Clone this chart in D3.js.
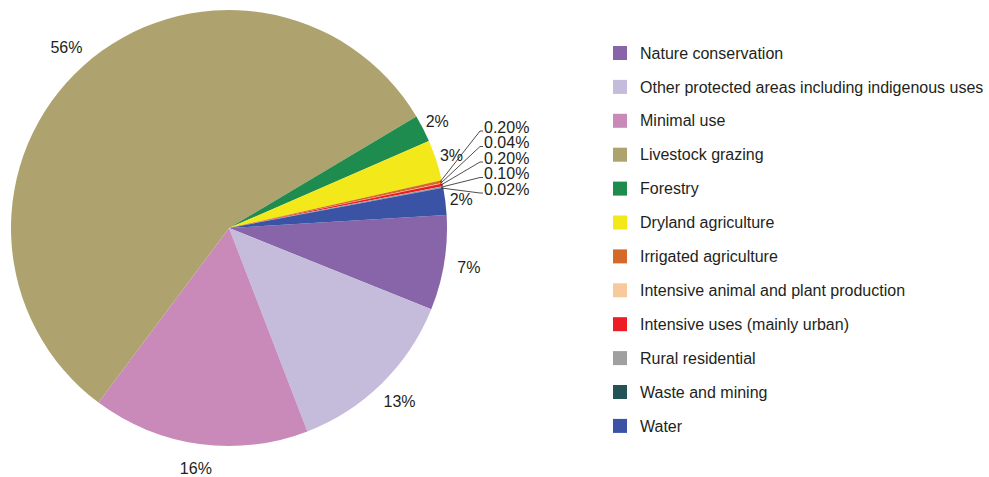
<!DOCTYPE html>
<html>
<head>
<meta charset="utf-8">
<script src="https://cdn.jsdelivr.net/npm/d3@7"></script>
<style>
  body { margin: 0; background: #fff; }
  svg { display: block; font-family: "Liberation Sans", Arial, Helvetica, sans-serif; }
</style>
</head>
<body>
<svg></svg>
<script>
// land use categories, clockwise from the right side of the pie
const categories = [
  'Nature conservation',
  'Other protected areas including indigenous uses',
  'Minimal use',
  'Livestock grazing',
  'Forestry',
  'Dryland agriculture',
  'Irrigated agriculture',
  'Intensive animal and plant production',
  'Intensive uses (mainly urban)',
  'Rural residential',
  'Waste and mining',
  'Water'
];
const values = [7, 13, 16, 56, 2, 3, 0.2, 0.04, 0.2, 0.1, 0.02, 2];
const labels = ['7%', '13%', '16%', '56%', '2%', '3%', '0.20%', '0.04%', '0.20%', '0.10%', '0.02%', '2%'];
const colors = ['#8864a9', '#c5bbdb', '#c98aba', '#aea36f', '#1e8c4e', '#f2e81a',
                '#d4692a', '#f8c99c', '#ee1c25', '#a0a0a0', '#235356', '#3a53a4'];

document.addEventListener('DOMContentLoaded', function() {
  const width = 989;
  const height = 477;
  const cx = 229, cy = 228, r = 218;

  const svg = d3.select('svg')
    .attr('width', width)
    .attr('height', height);

  const data = categories.map((c, i) => ({ name: c, value: values[i], label: labels[i], color: colors[i] }));

  const pie = d3.pie()
    .sort(null)
    .value(d => d.value)
    .startAngle(86.6 * Math.PI / 180)
    .endAngle(86.6 * Math.PI / 180 + 2 * Math.PI);

  const arcs = pie(data);
  const arc = d3.arc().innerRadius(0).outerRadius(r);

  const g = svg.append('g').attr('transform', `translate(${cx},${cy})`);

  g.selectAll('path')
    .data(arcs)
    .enter().append('path')
    .attr('d', arc)
    .attr('fill', d => d.data.color);

  const polar = (a, rad) => [rad * Math.sin(a), -rad * Math.cos(a)];
  const labelR = d => d.data.value >= 5 ? r + 25 : r + 16;

  // slices of 1% or more: label just outside the rim
  const big = arcs.filter(d => d.data.value >= 1);
  g.selectAll('text.big')
    .data(big)
    .enter().append('text')
    .attr('class', 'big')
    .attr('x', d => polar((d.startAngle + d.endAngle) / 2, labelR(d))[0])
    .attr('y', d => polar((d.startAngle + d.endAngle) / 2, labelR(d))[1])
    .attr('dy', '0.35em')
    .attr('text-anchor', 'middle')
    .attr('font-size', 16)
    .attr('fill', '#231f20')
    .text(d => d.data.label);

  // tiny slices: stacked labels with leader lines
  const tiny = arcs.filter(d => d.data.value < 1);
  const labelY0 = 127 - cy, labelStep = 15.5, elbowX = 480 - cx, textX = 484 - cx;

  g.selectAll('polyline')
    .data(tiny)
    .enter().append('polyline')
    .attr('fill', 'none')
    .attr('stroke', '#231f20')
    .attr('stroke-width', 0.8)
    .attr('points', (d, i) => {
      const p = polar((d.startAngle + d.endAngle) / 2, r - 2);
      const y = labelY0 + i * labelStep + 4;
      return [p, [elbowX, y], [textX - 1, y]].map(q => q.join(',')).join(' ');
    });

  g.selectAll('text.tiny')
    .data(tiny)
    .enter().append('text')
    .attr('class', 'tiny')
    .attr('x', textX)
    .attr('y', (d, i) => labelY0 + i * labelStep)
    .attr('dy', '0.35em')
    .attr('font-size', 16)
    .attr('fill', '#231f20')
    .text(d => d.data.label);

  // legend
  const legend = svg.append('g').attr('transform', 'translate(613,53)');
  const row = legend.selectAll('g')
    .data(data)
    .enter().append('g')
    .attr('transform', (d, i) => `translate(0,${i * 33.9})`);

  row.append('rect')
    .attr('x', 0)
    .attr('y', -7)
    .attr('width', 14)
    .attr('height', 14)
    .attr('fill', d => d.color);

  row.append('text')
    .attr('x', 27)
    .attr('dy', '0.35em')
    .attr('font-size', 16)
    .attr('fill', '#231f20')
    .text(d => d.name);
});
</script>
</body>
</html>
